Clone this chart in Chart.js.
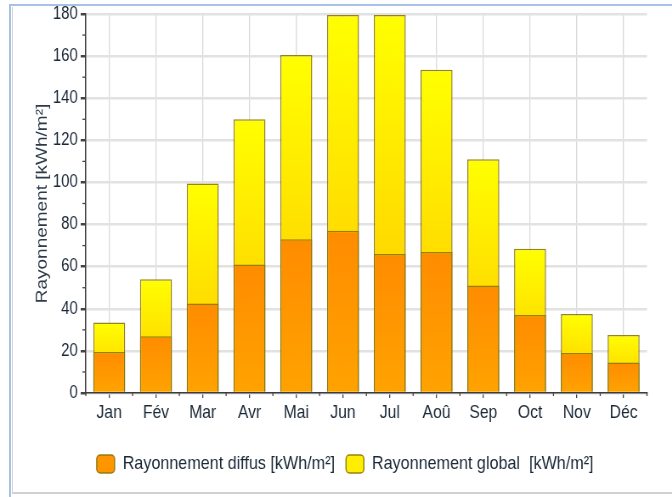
<!DOCTYPE html>
<html><head><meta charset="utf-8">
<script src="https://cdn.jsdelivr.net/npm/chart.js@4.4.1/dist/chart.umd.min.js"></script>
<style>
html,body{margin:0;padding:0;background:#fff;width:672px;height:497px;overflow:hidden}
#outer{position:absolute;left:9px;top:4px;width:700px;height:520px;border-top:2px solid #a9c1e4;border-left:2px solid #a9c1e4}
#inner{position:absolute;left:12px;top:7px;width:700px;height:485px;border-left:1px solid #d6d6d6;border-bottom:2px solid #d0d0d0}
#c{position:absolute;left:0;top:0;width:791px;height:497px;transform:scaleX(0.8496);transform-origin:0 0}
</style></head>
<body>
<div id="outer"></div>
<div id="inner"></div>
<canvas id="c" width="791" height="497"></canvas>
<script>
const months = ['Jan','Fév','Mar','Avr','Mai','Jun','Jul','Aoû','Sep','Oct','Nov','Déc'];
const diffus = [19.5, 27, 42.5, 61, 73, 77, 66, 67, 51, 37, 19, 14.5];
const globalRad = [33.5, 54, 99.5, 130, 160.5, 179.5, 179.5, 153.5, 111, 68.5, 37.5, 27.5];
const yTicks = [0, 20, 40, 60, 80, 100, 120, 140, 160, 180];
const labelDiffus = 'Rayonnement diffus [kWh/m²]';
const labelGlobal = 'Rayonnement global  [kWh/m²]';
const yTitle = 'Rayonnement [kWh/m²]';
const legendFills = ['#FF9600', '#FFEE00'];

const FONT = "'Liberation Sans', Arial, sans-serif";
const TXT = '#1a2838';
const BORDER = 'rgba(140,118,10,0.9)';

function grad(c, c0, c1, solid) {
  if (c.type !== 'data') return solid;
  const chart = c.chart, y = chart.scales.y;
  if (!y || !chart.chartArea) return solid;
  const top = y.getPixelForValue(c.raw), bot = y.getPixelForValue(0);
  if (!isFinite(top) || !isFinite(bot) || top === bot) return solid;
  const g = chart.ctx.createLinearGradient(0, top, 0, bot);
  g.addColorStop(0, c0); g.addColorStop(1, c1);
  return g;
}

const minorTicks = {
  id: 'minorTicks',
  afterDraw(chart) {
    const ctx = chart.ctx, x = chart.scales.x, y = chart.scales.y;
    ctx.save();
    ctx.strokeStyle = '#444'; ctx.lineWidth = 1.3;
    const step = yTicks[1] - yTicks[0];
    for (let i = 0; i < yTicks.length - 1; i++) {
      const py = y.getPixelForValue(yTicks[i] + step / 2);
      ctx.beginPath(); ctx.moveTo(y.right - 4, py); ctx.lineTo(y.right, py); ctx.stroke();
    }
    const n = months.length;
    const w = x.getPixelForValue(1) - x.getPixelForValue(0);
    for (let i = 0; i <= n; i++) {
      let px;
      if (i === 0) px = x.getPixelForValue(0) - w / 2;
      else if (i === n) px = x.getPixelForValue(n - 1) + w / 2;
      else px = (x.getPixelForValue(i - 1) + x.getPixelForValue(i)) / 2;
      ctx.beginPath(); ctx.moveTo(px, x.top); ctx.lineTo(px, x.top + 3); ctx.stroke();
    }
    ctx.restore();
  }
};

new Chart(document.getElementById('c'), {
  type: 'bar',
  data: {
    labels: months,
    datasets: [
      {
        label: labelDiffus,
        data: diffus,
        backgroundColor: c => grad(c, '#FF8C00', '#FFA300', legendFills[0]),
        borderColor: BORDER,
        borderWidth: 1.5,
        barPercentage: 0.684,
        categoryPercentage: 1
      },
      {
        label: labelGlobal,
        data: globalRad,
        backgroundColor: c => grad(c, '#FFFF00', '#FFC400', legendFills[1]),
        borderColor: BORDER,
        borderWidth: 1.5,
        barPercentage: 0.684,
        categoryPercentage: 1
      }
    ]
  },
  options: {
    responsive: false,
    animation: false,
    devicePixelRatio: 1,
    layout: { padding: { left: 51, right: 29.5, top: 13, bottom: 13.5 } },
    plugins: {
      tooltip: { enabled: false },
      legend: {
        position: 'bottom',
        labels: {
          font: { family: FONT, size: 19 },
          color: TXT,
          boxWidth: 21,
          boxHeight: 18,
          padding: 13,
          useBorderRadius: true,
          borderRadius: 4,
          generateLabels: chart => chart.data.datasets.map((ds, i) => ({
            text: ds.label,
            fillStyle: legendFills[i],
            strokeStyle: BORDER,
            lineWidth: 1.5,
            fontColor: TXT,
            hidden: false,
            datasetIndex: i,
            borderRadius: 4
          }))
        }
      }
    },
    scales: {
      x: {
        stacked: true,
        offset: true,
        afterFit: s => { s.height = 48.5; },
        grid: { offset: false, color: '#d9d9d9', lineWidth: 1.3, tickColor: '#444', tickLength: 5, drawTicks: true },
        border: { color: '#3c3c3c', width: 1.5 },
        ticks: { font: { family: FONT, size: 18.5 }, color: TXT, padding: 4, maxRotation: 0, autoSkip: false }
      },
      y: {
        stacked: false,
        min: yTicks[0],
        max: yTicks[yTicks.length - 1],
        afterFit: s => { s.width = 50; },
        afterBuildTicks: s => { s.ticks = yTicks.map(v => ({ value: v })); },
        grid: { color: '#e2e2e2', lineWidth: 2.5, tickColor: '#444', tickLength: 6 },
        border: { color: '#3c3c3c', width: 1.5 },
        ticks: { font: { family: FONT, size: 17.5 }, color: TXT, padding: 3.5 },
        title: { display: true, text: yTitle, font: { family: FONT, size: 19 }, color: '#2d3a4a', padding: { top: -13, bottom: 0 } }
      }
    }
  },
  plugins: [minorTicks]
});
</script>
</body></html>
